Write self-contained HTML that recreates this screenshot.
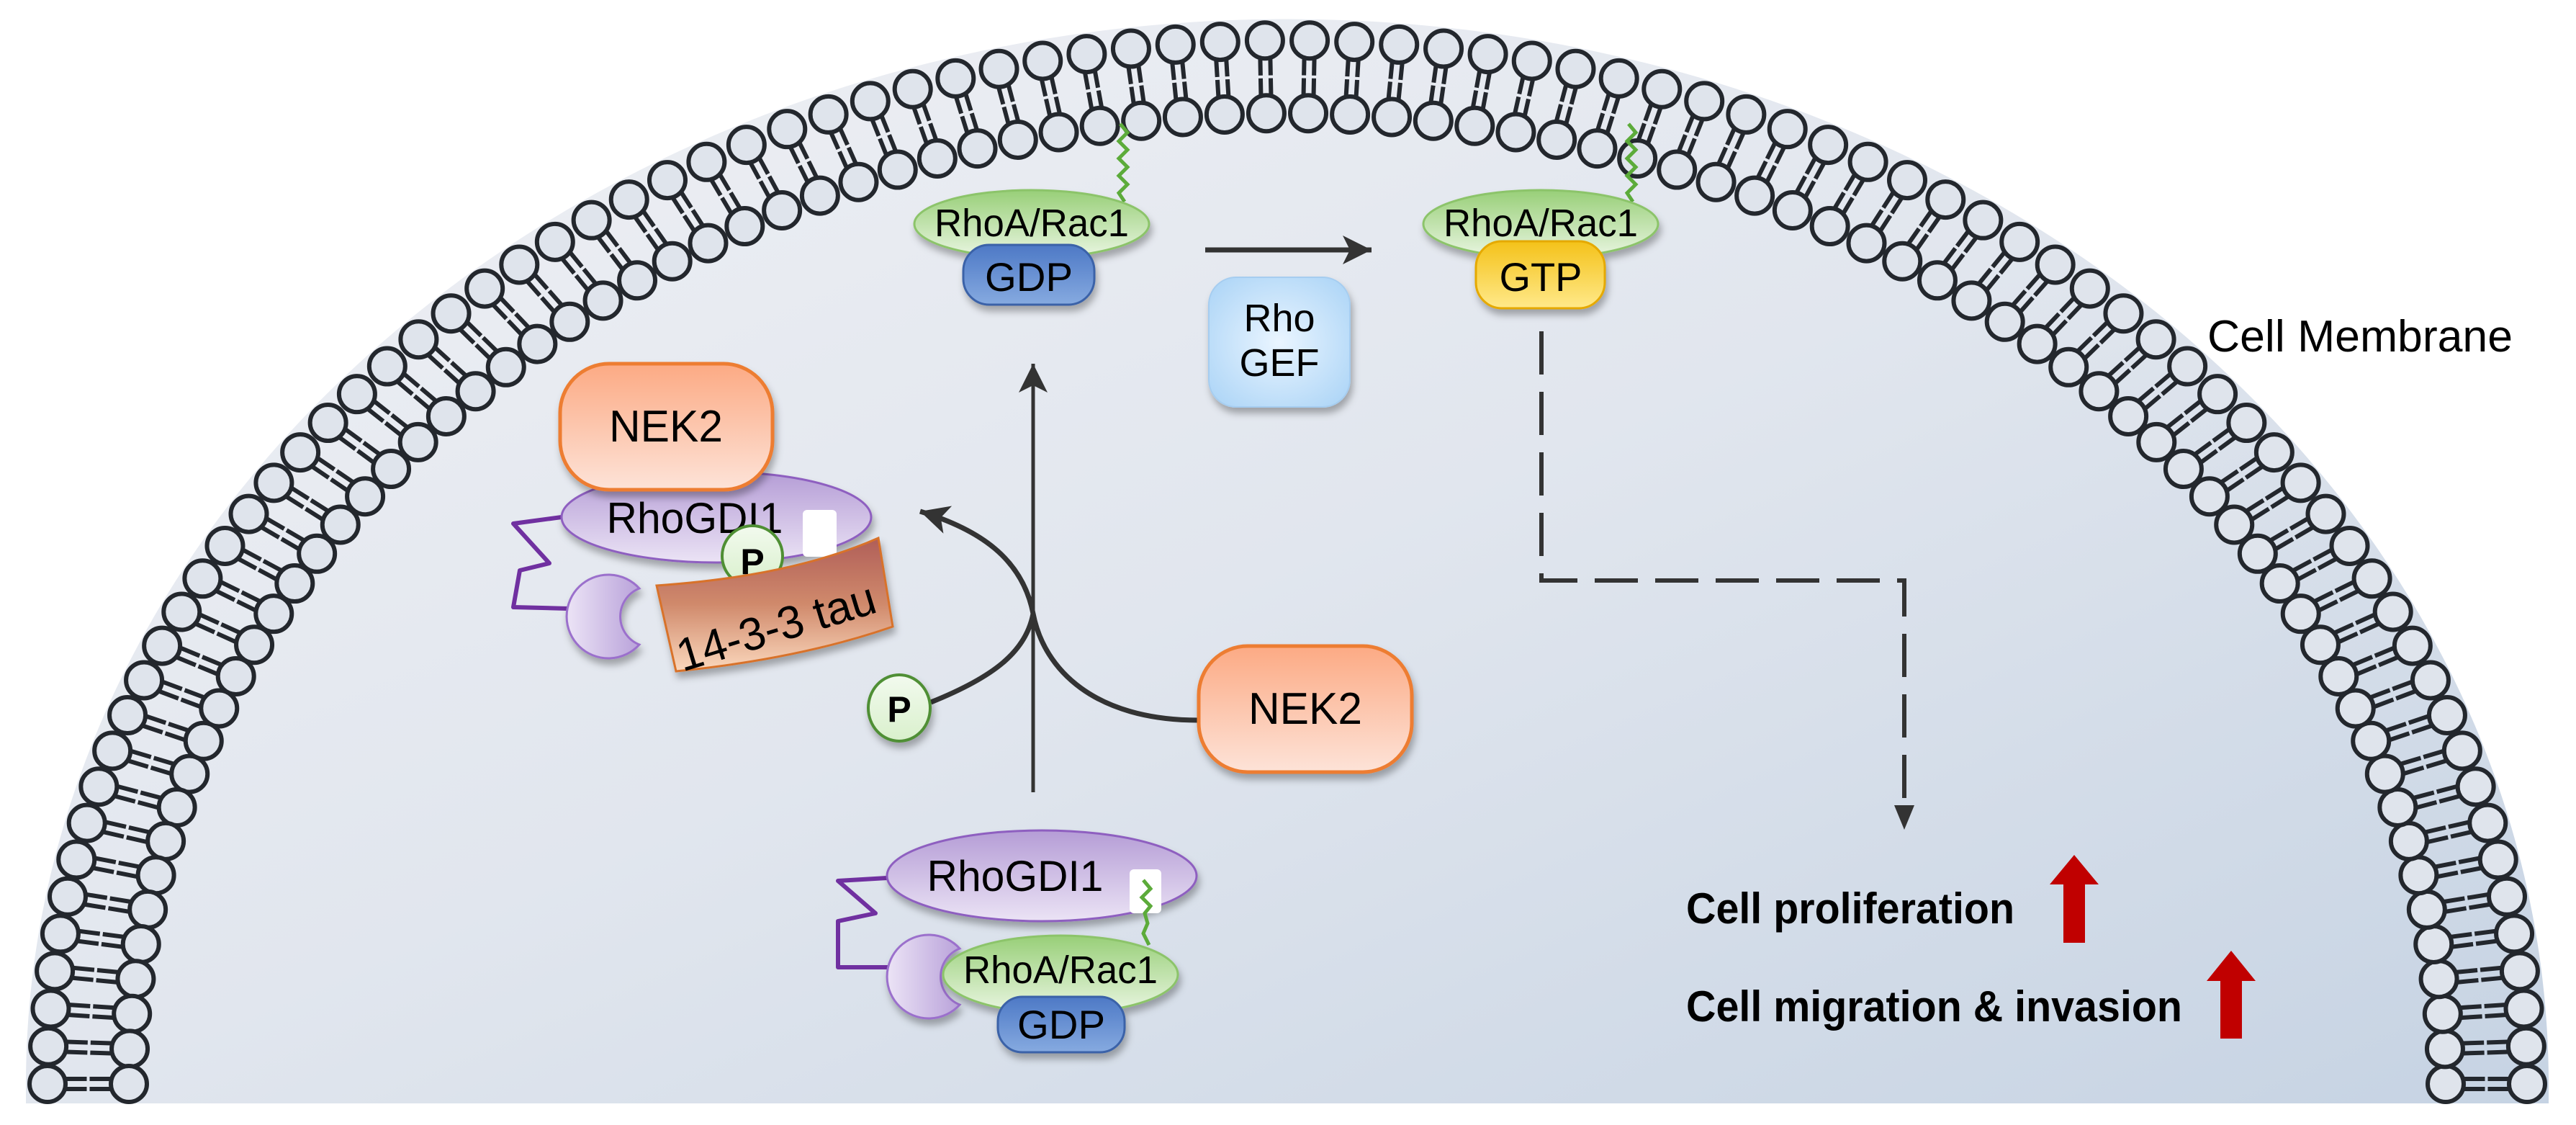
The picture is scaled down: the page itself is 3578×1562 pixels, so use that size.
<!DOCTYPE html>
<html><head><meta charset="utf-8"><style>
html,body{margin:0;padding:0;background:#fff;}
svg{display:block;}
text{font-family:"Liberation Sans",Arial,sans-serif;}
</style></head><body>
<svg id="s" width="3578" height="1562" viewBox="0 0 3578 1562" xmlns="http://www.w3.org/2000/svg">
<defs>
<linearGradient id="bg" x1="0" y1="0" x2="1" y2="1">
<stop offset="0" stop-color="#f0f1f5"/><stop offset="0.5" stop-color="#e1e6ee"/><stop offset="1" stop-color="#c6d3e3"/></linearGradient>
<linearGradient id="gr" x1="0" y1="0" x2="0" y2="1"><stop offset="0" stop-color="#98cf78"/><stop offset="1" stop-color="#eaf6e2"/></linearGradient>
<linearGradient id="bl" x1="0" y1="0" x2="0" y2="1"><stop offset="0" stop-color="#4d79c6"/><stop offset="1" stop-color="#86aae0"/></linearGradient>
<linearGradient id="yl" x1="0" y1="0" x2="0" y2="1"><stop offset="0" stop-color="#f4c21a"/><stop offset="1" stop-color="#ffe98a"/></linearGradient>
<radialGradient id="lb" cx="0.5" cy="0.5" r="0.7"><stop offset="0" stop-color="#eaf5ff"/><stop offset="1" stop-color="#a9d3f6"/></radialGradient>
<linearGradient id="or" x1="0" y1="0" x2="0" y2="1"><stop offset="0" stop-color="#fcaa84"/><stop offset="1" stop-color="#fde3d8"/></linearGradient>
<linearGradient id="pu" x1="0" y1="0" x2="0" y2="1"><stop offset="0" stop-color="#b59dd6"/><stop offset="1" stop-color="#ebe3f5"/></linearGradient>
<linearGradient id="pu2" x1="0" y1="0" x2="1" y2="0"><stop offset="0" stop-color="#ece4f6"/><stop offset="1" stop-color="#b9a2da"/></linearGradient>
<linearGradient id="tau" x1="0" y1="0" x2="0" y2="1"><stop offset="0" stop-color="#b05e58"/><stop offset="0.5" stop-color="#d08a6c"/><stop offset="1" stop-color="#fbd8bd"/></linearGradient>
<linearGradient id="pg" x1="0" y1="0" x2="0" y2="1"><stop offset="0" stop-color="#f2faee"/><stop offset="1" stop-color="#d9f0cc"/></linearGradient>
<filter id="sh" x="-20%" y="-20%" width="140%" height="150%"><feDropShadow dx="3" dy="8" stdDeviation="5" flood-color="#000" flood-opacity="0.3"/></filter>
<marker id="ah2" markerUnits="userSpaceOnUse" markerWidth="40" markerHeight="40" refX="26" refY="14" orient="auto">
<path d="M26,14 L0,2 L6,14 L0,26 Z" fill="#333"/></marker>
<marker id="ah3" markerUnits="userSpaceOnUse" markerWidth="60" markerHeight="60" refX="40" refY="22" orient="auto">
<path d="M40,22 L0,2 L10,22 L0,42 Z" fill="#333"/></marker>
</defs>
<path d="M36,1532 L36,1505 A1752,1479 0 0 1 3540,1505 L3540,1532 Z" fill="url(#bg)"/>
<g id="mem"></g>

<path d="M1556,172 l10,12 l-12,12 l12,12 l-12,12 l12,12 l-12,12 l12,12 l-12,12 l8,12" fill="none" stroke="#5cab3a" stroke-width="5"/>
<path d="M2262,172 l10,12 l-12,12 l12,12 l-12,12 l12,12 l-12,12 l12,12 l-12,12 l8,12" fill="none" stroke="#5cab3a" stroke-width="5"/>

<g filter="url(#sh)">
<ellipse cx="1433" cy="311" rx="163" ry="47" fill="url(#gr)" stroke="#8cc46a" stroke-width="3"/>
<rect x="1338" y="340" width="182" height="83" rx="36" fill="url(#bl)" stroke="#3b62a8" stroke-width="3"/>
</g>
<text x="1433" y="328" font-size="54" text-anchor="middle" textLength="270" lengthAdjust="spacingAndGlyphs">RhoA/Rac1</text>
<text x="1429" y="404" font-size="56" text-anchor="middle" textLength="122" lengthAdjust="spacingAndGlyphs">GDP</text>

<g filter="url(#sh)">
<ellipse cx="2140" cy="311" rx="163" ry="47" fill="url(#gr)" stroke="#8cc46a" stroke-width="3"/>
<rect x="2050" y="335" width="179" height="93" rx="36" fill="url(#yl)" stroke="#e5a900" stroke-width="3"/>
</g>
<text x="2140" y="328" font-size="54" text-anchor="middle" textLength="270" lengthAdjust="spacingAndGlyphs">RhoA/Rac1</text>
<text x="2140" y="404" font-size="56" text-anchor="middle" textLength="115" lengthAdjust="spacingAndGlyphs">GTP</text>

<rect x="1679" y="385" width="196" height="180" rx="38" fill="url(#lb)" stroke="#a6cdf0" stroke-width="2" filter="url(#sh)"/>
<text x="1777" y="460" font-size="54" text-anchor="middle">Rho</text>
<text x="1777" y="522" font-size="54" text-anchor="middle">GEF</text>

<line x1="1674" y1="347" x2="1905" y2="347" stroke="#333" stroke-width="7" marker-end="url(#ah3)"/>
<line x1="1435" y1="1100" x2="1435" y2="505" stroke="#333" stroke-width="5" marker-end="url(#ah3)"/>
<path d="M1665,1000 C1520,1000 1450,930 1435,852 C1420,775 1360,735 1278,710" fill="none" stroke="#333" stroke-width="7" marker-end="url(#ah3)"/>
<path d="M1293,975 C1380,940 1425,905 1435,852" fill="none" stroke="#333" stroke-width="7"/>
<path d="M2141,460 V806 H2645 V1120" fill="none" stroke="#333" stroke-width="6" stroke-dasharray="60,24"/>
<path d="M2631,1118 L2659,1118 L2645,1152 Z" fill="#333"/>

<path d="M780,718 L713,727 L763,782 L722,792 L713,843 L790,845" fill="none" stroke="#7030a0" stroke-width="6" stroke-linejoin="round"/>
<path d="M888,817 A58,58 0 1 0 888,895 A42,42 0 0 1 888,817 Z" fill="url(#pu2)" stroke="#9b6fcc" stroke-width="3" filter="url(#sh)"/>
<ellipse cx="995" cy="718" rx="215" ry="63" fill="url(#pu)" stroke="#8e5fc0" stroke-width="3" filter="url(#sh)"/>
<rect x="778" y="505" width="295" height="175" rx="68" fill="url(#or)" stroke="#ed7d31" stroke-width="5" filter="url(#sh)"/>
<text x="925" y="613" font-size="62" text-anchor="middle" textLength="158" lengthAdjust="spacingAndGlyphs">NEK2</text>
<text x="965" y="740" font-size="60" text-anchor="middle" textLength="245" lengthAdjust="spacingAndGlyphs">RhoGDI1</text>
<rect x="1115" y="708" width="47" height="65" rx="6" fill="#fff"/>
<circle cx="1045" cy="772" r="42" fill="url(#pg)" stroke="#4f8f34" stroke-width="4"/>
<text x="1045" y="797" font-size="50" font-weight="bold" text-anchor="middle">P</text>
<path d="M912,813 Q1100,800 1220,747 L1240,870 Q1110,915 939,932 Z" fill="url(#tau)" stroke="#d8722a" stroke-width="3" filter="url(#sh)"/>
<text x="1078" y="892" font-size="64" text-anchor="middle" transform="rotate(-17 1078 870)" textLength="285" lengthAdjust="spacingAndGlyphs">14-3-3 tau</text>

<ellipse cx="1249" cy="983" rx="43" ry="46" fill="url(#pg)" stroke="#4f8f34" stroke-width="4" filter="url(#sh)"/>
<text x="1249" y="1002" font-size="50" font-weight="bold" text-anchor="middle">P</text>
<rect x="1665" y="897" width="296" height="175" rx="68" fill="url(#or)" stroke="#ed7d31" stroke-width="5" filter="url(#sh)"/>
<text x="1813" y="1005" font-size="62" text-anchor="middle" textLength="158" lengthAdjust="spacingAndGlyphs">NEK2</text>

<path d="M1232,1219 L1164,1223 L1216,1268 L1164,1279 L1164,1343 L1240,1343" fill="none" stroke="#7030a0" stroke-width="6" stroke-linejoin="round"/>
<ellipse cx="1447" cy="1216" rx="215" ry="63" fill="url(#pu)" stroke="#8e5fc0" stroke-width="3" filter="url(#sh)"/>
<text x="1410" y="1237" font-size="60" text-anchor="middle" textLength="245" lengthAdjust="spacingAndGlyphs">RhoGDI1</text>
<rect x="1569" y="1207" width="44" height="61" rx="6" fill="#fff"/>
<path d="M1333,1317 A58,58 0 1 0 1333,1395 A42,42 0 0 1 1333,1317 Z" fill="url(#pu2)" stroke="#9b6fcc" stroke-width="3" filter="url(#sh)"/>
<path d="M1588,1222 l10,12 l-12,12 l12,12 l-8,10 l4,14 l-6,14 l8,16" fill="none" stroke="#5cab3a" stroke-width="5"/>
<g filter="url(#sh)">
<ellipse cx="1473" cy="1353" rx="163" ry="54" fill="url(#gr)" stroke="#8cc46a" stroke-width="3"/>
<rect x="1386" y="1384" width="176" height="77" rx="34" fill="url(#bl)" stroke="#3b62a8" stroke-width="3"/>
</g>
<text x="1473" y="1365" font-size="54" text-anchor="middle" textLength="270" lengthAdjust="spacingAndGlyphs">RhoA/Rac1</text>
<text x="1474" y="1442" font-size="56" text-anchor="middle" textLength="122" lengthAdjust="spacingAndGlyphs">GDP</text>

<text x="2342" y="1282" font-size="60" font-weight="bold" textLength="456" lengthAdjust="spacingAndGlyphs">Cell proliferation</text>
<text x="2342" y="1418" font-size="60" font-weight="bold" textLength="689" lengthAdjust="spacingAndGlyphs">Cell migration &amp; invasion</text>
<path d="M2881,1187 L2915,1228 L2896,1228 L2896,1309 L2866,1309 L2866,1228 L2847,1228 Z" fill="#c00000"/>
<path d="M3099,1320 L3133,1362 L3114,1362 L3114,1442 L3084,1442 L3084,1362 L3065,1362 Z" fill="#c00000"/>
<text x="3066" y="488" font-size="62" textLength="424" lengthAdjust="spacingAndGlyphs">Cell Membrane</text>
</svg>
<script>
(function(){
var g=document.getElementById("mem");
var cx=1788,cy=1505,Rx=1722,Ry=1449,rx=1609,ry=1348,N=87,h="";
for(var i=0;i<=N;i++){
var t=Math.PI*i/N,c=Math.cos(t),s=Math.sin(t);
var ox=cx+Rx*c,oy=cy-Ry*s,ix=cx+rx*c,iy=cy-ry*s;
var dx=ix-ox,dy=iy-oy,L=Math.sqrt(dx*dx+dy*dy),ux=dx/L,uy=dy/L,px=-uy,py=ux;
var a1=22,a2=L/2-2,b1=L/2+2,b2=L-22;
for(var k=-1;k<=1;k+=2){
var ofx=px*7*k,ofy=py*7*k;
h+='<line x1="'+(ox+ux*a1+ofx)+'" y1="'+(oy+uy*a1+ofy)+'" x2="'+(ox+ux*a2+ofx)+'" y2="'+(oy+uy*a2+ofy)+'"/>';
h+='<line x1="'+(ox+ux*b1+ofx)+'" y1="'+(oy+uy*b1+ofy)+'" x2="'+(ox+ux*b2+ofx)+'" y2="'+(oy+uy*b2+ofy)+'"/>';
}
h+='<circle cx="'+ox+'" cy="'+oy+'" r="25"/><circle cx="'+ix+'" cy="'+iy+'" r="25"/>';
}
g.innerHTML='<g stroke="#23272d" stroke-width="6" fill="#dfe4ec">'+h+'</g>';
})();
</script>
</body></html>
